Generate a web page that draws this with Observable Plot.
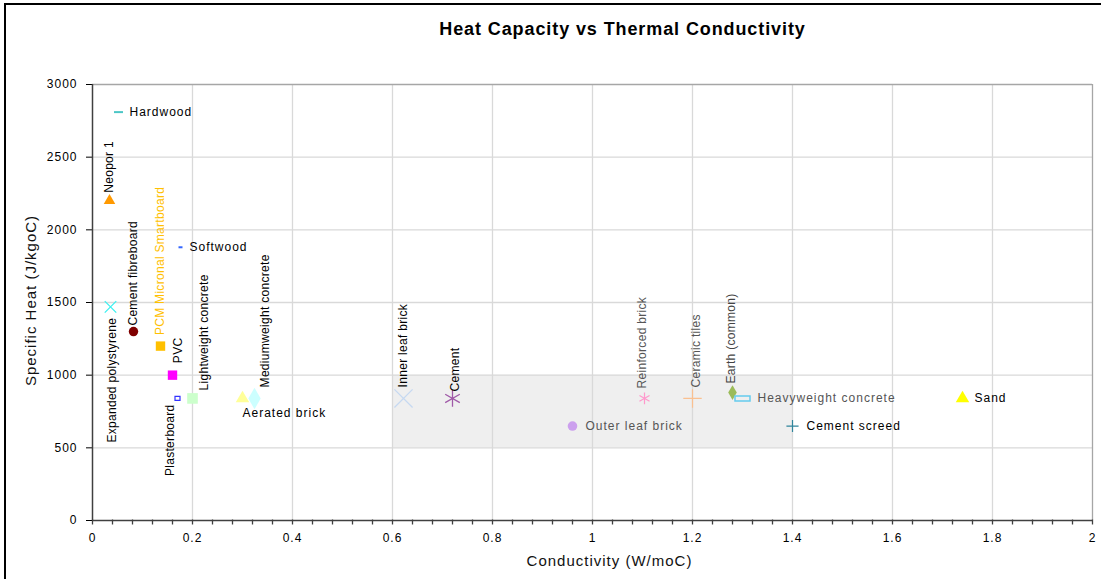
<!DOCTYPE html>
<html><head><meta charset="utf-8">
<script src="https://cdn.jsdelivr.net/npm/d3@7"></script>
<script src="https://cdn.jsdelivr.net/npm/@observablehq/plot@0.6"></script>
<style>
body{margin:0;background:#fff;}
#wrap{position:relative;width:1101px;height:579px;overflow:hidden;background:#fff}
#border{position:absolute;left:4px;top:3px;right:-5px;bottom:-5px;border-left:2px solid #000;border-top:2px solid #000;pointer-events:none}
text[aria-label="hlabel"]{letter-spacing:1px}
text[aria-label="vlabel"]{letter-spacing:0.3px}
text[aria-label="axtitle"]{letter-spacing:1px}
text[aria-label="title"]{letter-spacing:0.9px}
g[aria-label$="tick label"] text{letter-spacing:1px}
</style></head><body><div id="wrap"><div id="border"></div></div>
<script>
// ---- data ----
const title = "Heat Capacity vs Thermal Conductivity";
const xTitle = "Conductivity (W/moC)";
const yTitle = "Specific Heat (J/kgoC)";
const materials = ["Hardwood","Neopor 1","Softwood","Expanded polystyrene","Cement fibreboard","PCM Micronal Smartboard","PVC","Plasterboard","Lightweight concrete","Aerated brick","Mediumweight concrete","Inner leaf brick","Cement","Outer leaf brick","Reinforced brick","Ceramic tiles","Earth (common)","Heavyweight concrete","Sand","Cement screed"];
const conductivity = [0.052,0.034,0.176,0.036,0.082,0.136,0.16,0.17,0.2,0.30,0.324,0.622,0.72,0.96,1.104,1.2,1.28,1.30,1.74,1.40];
const specificHeat = [2810,2200,1880,1470,1300,1200,1000,840,840,840,840,840,840,650,840,840,880,840,840,650];
const zoneX = [0.6, 1.4];
const zoneY = [500, 1000];
const xTicks = [0,0.2,0.4,0.6,0.8,1,1.2,1.4,1.6,1.8,2];
const yTicks = [0,500,1000,1500,2000,2500,3000];

// ---- styles ----
const dash = w => ({draw(ctx){ctx.moveTo(-w/2,0);ctx.lineTo(w/2,0);}});
const box = (w,h) => ({draw(ctx){ctx.rect(-w/2,-h/2,w,h);}});
const vtick = {draw(ctx){ctx.moveTo(0,-1);ctx.lineTo(0,4);}};
const layout = {
 "Hardwood": {mark:dash(9), stroke:"#4bc6c6", sw:2, pos:"right", dx:11},
 "Neopor 1": {mark:"triangle", fill:"#ff9900", r:4.3, pos:"above", gap:8},
 "Softwood": {mark:dash(4), stroke:"#3366ff", sw:2, pos:"right", dx:9},
 "Expanded polystyrene": {mark:"times", stroke:"#3ef0f0", r:5.3, sw:1.3, pos:"below", gap:11, dx:2},
 "Cement fibreboard": {mark:"circle", fill:"#7f0000", r:4.7, pos:"above", gap:6},
 "PCM Micronal Smartboard": {mark:"square", fill:"#ffc000", r:5.3, pos:"above", gap:11, color:"#ffc000"},
 "PVC": {mark:"square", fill:"#ff00ff", r:5.3, pos:"above", gap:12, dx:6},
 "Plasterboard": {mark:box(5,4), stroke:"#3333ff", sw:1.2, pos:"below", gap:6, dx:-7},
 "Lightweight concrete": {mark:"square", fill:"#ccffcc", r:6, pos:"above", gap:8, dx:12},
 "Aerated brick": {mark:"triangle", fill:"#ffff99", r:5, pos:"under", dx:0, dy:15},
 "Mediumweight concrete": {mark:"diamond", fill:"#ccffff", r:6.5, pos:"above", gap:11, dx:11},
 "Inner leaf brick": {mark:"times", stroke:"#c6d9f1", r:8.3, sw:1.3, pos:"above", gap:11, dx:0},
 "Cement": {mark:"asterisk", stroke:"#a05aa8", r:8, sw:1.3, pos:"above", gap:7, dx:3},
 "Outer leaf brick": {mark:"circle", fill:"#cca0ee", r:4.8, pos:"right", dx:13, color:"#555"},
 "Reinforced brick": {mark:"asterisk", stroke:"#ff99cc", r:5.5, sw:1.2, pos:"above", gap:10, dx:-2, color:"#555"},
 "Ceramic tiles": {mark:"plus", stroke:"#fac090", r:6, sw:1.2, pos:"above", gap:11, dx:4, color:"#555"},
 "Earth (common)": {mark:"diamond", fill:"#9bbb59", r:4.5, pos:"above", gap:9, dx:-1, color:"#444"},
 "Heavyweight concrete": {mark:box(15,5), stroke:"#66ccee", sw:1.5, pos:"right", dx:15, color:"#555"},
 "Sand": {mark:"triangle", fill:"#ffff00", r:5, pos:"right", dx:12},
 "Cement screed": {mark:"plus", stroke:"#31859c", r:4, sw:1.2, pos:"right", dx:14}
};

const data = materials.map((name,i) => ({name, x: conductivity[i], y: specificHeat[i]}));
const font = "'Liberation Sans', Arial, sans-serif";
const tag = t => () => t;

const marks = [
  Plot.rect([{x1:zoneX[0], x2:zoneX[1], y1:zoneY[0], y2:zoneY[1]}], {x1:"x1", x2:"x2", y1:"y1", y2:"y2", fill:"#efefef"}),
  Plot.ruleX(xTicks.slice(1,-1), {stroke:"#d9d9d9", strokeWidth:1.3}),
  Plot.ruleY(yTicks.slice(1,-1), {stroke:"#d9d9d9", strokeWidth:1.3}),
  Plot.ruleY([3000], {stroke:"#a6a6a6", strokeWidth:1.3}),
  Plot.ruleX([2], {stroke:"#a6a6a6", strokeWidth:1.3}),
  Plot.ruleX([0], {stroke:"#404040", strokeWidth:1.5}),
  Plot.ruleY([0], {stroke:"#404040", strokeWidth:1.5}),
  Plot.dot(d3.range(0, 2.0001, 0.04), {x:d=>d, y:()=>0, symbol:vtick, stroke:"#404040", strokeWidth:1.3, fill:"none"}),
  Plot.text([title], {frameAnchor:"top", lineAnchor:"middle", dy:-55, dx:30, fontSize:18, fontWeight:"bold", fontFamily:font, fill:"#000", ariaLabel:tag("title")}),
  Plot.text([xTitle], {frameAnchor:"bottom", lineAnchor:"middle", textAnchor:"middle", dy:41, dx:17, fontSize:15, fontFamily:font, fill:"#111", ariaLabel:tag("axtitle")}),
  Plot.text([yTitle], {frameAnchor:"left", lineAnchor:"middle", textAnchor:"middle", rotate:-90, dx:-61, dy:-2, fontSize:15, fontFamily:font, fill:"#111", ariaLabel:tag("axtitle")})
];

for (const d of data) {
  const s = layout[d.name];
  const filled = s.fill != null;
  marks.push(Plot.dot([d], {x:"x", y:"y", symbol:s.mark, r:s.r ?? 4,
    fill: filled ? s.fill : "none", stroke: filled ? "none" : s.stroke, strokeWidth: s.sw ?? 1}));
  const color = s.color ?? "#000";
  if (s.pos === "right") {
    marks.push(Plot.text([d], {x:"x", y:"y", text:"name", textAnchor:"start", dx:s.dx, fontSize:12, fontFamily:font, fill:color, ariaLabel:tag("hlabel")}));
  } else if (s.pos === "under") {
    marks.push(Plot.text([d], {x:"x", y:"y", text:"name", textAnchor:"start", dx:s.dx, dy:s.dy, fontSize:12, fontFamily:font, fill:color, ariaLabel:tag("hlabel")}));
  } else if (s.pos === "above") {
    marks.push(Plot.text([d], {x:"x", y:"y", text:"name", rotate:-90, textAnchor:"start", dx:s.dx ?? 0, dy:-s.gap, fontSize:12, fontFamily:font, fill:color, ariaLabel:tag("vlabel")}));
  } else if (s.pos === "below") {
    marks.push(Plot.text([d], {x:"x", y:"y", text:"name", rotate:-90, textAnchor:"end", dx:s.dx ?? 0, dy:s.gap, fontSize:12, fontFamily:font, fill:color, ariaLabel:tag("vlabel")}));
  }
}

const chart = Plot.plot({
  width: 1101, height: 579,
  marginLeft: 92, marginRight: 9, marginTop: 84, marginBottom: 59,
  style: {fontFamily: font, background: "transparent", overflow: "visible"},
  x: {domain:[0,2], ticks:xTicks, tickSize:0, tickPadding:13, label:null, tickFormat:d=>String(+d.toFixed(1))},
  y: {domain:[0,3000], ticks:yTicks, tickSize:6, tickPadding:9, label:null, tickFormat:d=>String(d)},
  marks
});
chart.style.fontSize = "12px";
document.getElementById("wrap").appendChild(chart);
</script>
</body></html>
